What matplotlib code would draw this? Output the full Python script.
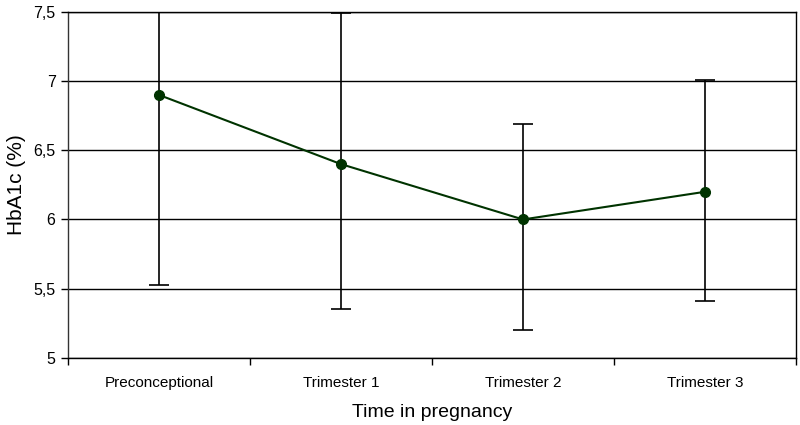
import matplotlib

matplotlib.use("Agg")
import matplotlib.pyplot as plt
from matplotlib.ticker import FixedLocator, FuncFormatter

# Dados
categorias = ["Preconceptional", "Trimester 1", "Trimester 2", "Trimester 3"]
hba1c = [6.90, 6.40, 6.00, 6.20]
limite_inf = [5.53, 5.35, 5.20, 5.41]
limite_sup = [8.27, 7.49, 6.69, 7.01]

COR_LINHA = "#003300"

plt.rcParams["font.family"] = ["Liberation Sans", "DejaVu Sans"]

fig = plt.figure(figsize=(8, 4.25), dpi=100)
ax = fig.add_axes([0.085, 0.158, 0.91, 0.814])

x = list(range(len(categorias)))
err_baixo = [v - lo for v, lo in zip(hba1c, limite_inf)]
err_cima = [hi - v for v, hi in zip(hba1c, limite_sup)]

ax.errorbar(x, hba1c, yerr=[err_baixo, err_cima], fmt="none", ecolor="black",
            elinewidth=1.2, capsize=7, capthick=1.2, zorder=3)
ax.plot(x, hba1c, color=COR_LINHA, linewidth=1.5, marker="o", markersize=7,
        markerfacecolor=COR_LINHA, markeredgecolor=COR_LINHA, zorder=4)

ax.set_xlim(-0.5, len(categorias) - 0.5)
ax.set_ylim(5, 7.5)
ax.set_yticks([5, 5.5, 6, 6.5, 7, 7.5])
ax.yaxis.set_major_formatter(FuncFormatter(lambda v, _: f"{v:g}".replace(".", ",")))
ax.grid(axis="y", color="black", linewidth=1.0)
ax.set_axisbelow(True)

ax.set_xticks(x)
ax.set_xticklabels(categorias)
ax.xaxis.set_minor_locator(FixedLocator([i - 0.5 for i in range(len(categorias) + 1)]))
ax.tick_params(axis="x", which="major", length=0, pad=13, labelsize=11)
ax.tick_params(axis="x", which="minor", length=5, width=1, direction="out")
ax.tick_params(axis="y", length=5, width=1, labelsize=11.5, pad=4)

for s in ax.spines.values():
    s.set_color("black")
    s.set_linewidth(1.0)
ax.spines["left"].set_color("#333333")

ax.set_ylabel("HbA1c (%)", fontsize=15, labelpad=5)
ax.set_xlabel("Time in pregnancy", fontsize=14, labelpad=10)

fig.savefig("out.png", dpi=100, facecolor="white")
